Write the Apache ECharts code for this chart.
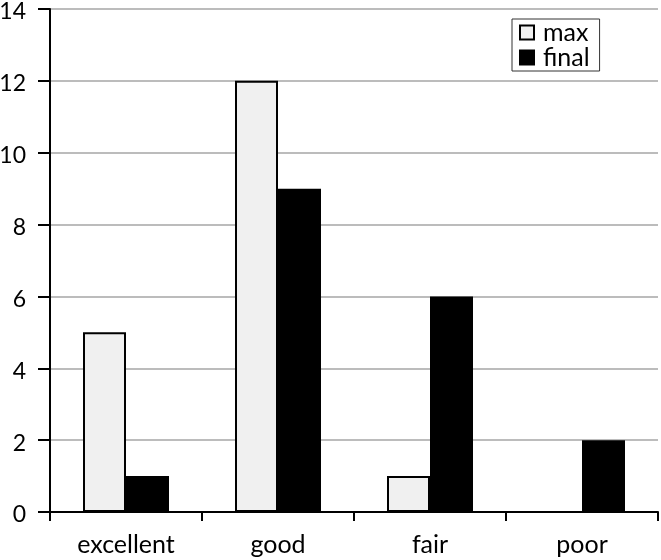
<!DOCTYPE html>
<html><head><meta charset="utf-8">
<script src="https://cdn.jsdelivr.net/npm/echarts@6/dist/echarts.min.js"></script>
<style>html,body{margin:0;padding:0;background:#fff}#c{width:661px;height:560px}</style>
</head><body><div id="c"></div>
<script>
const categories = ['excellent', 'good', 'fair', 'poor'];
const maxValues = [5, 12, 1, 0];
const finalValues = [1, 9, 6, 2];
const yTicks = [0, 2, 4, 6, 8, 10, 12, 14];

const chart = echarts.init(document.getElementById('c'), null, {renderer: 'canvas'});
const font = 'Lato, "Open Sans", sans-serif';
chart.setOption({
  animation: false,
  backgroundColor: '#fff',
  grid: {left: 50, right: 3, top: 9, bottom: 48, containLabel: false, outerBoundsMode: 'none'},
  legend: {
    orient: 'vertical', left: 512, top: 19,
    padding: [1, 10, 1, 7], itemGap: 0,
    borderColor: '#333', borderWidth: 1,
    itemWidth: 14, itemHeight: 14, icon: 'rect',
    textStyle: {fontFamily: font, fontSize: 25, color: '#000', padding: [0, 0, 0, 4]},
    data: ['max', 'final']
  },
  xAxis: {
    type: 'category', data: categories,
    axisLine: {lineStyle: {color: '#000', width: 2}},
    axisTick: {show: true, length: 9, lineStyle: {color: '#000', width: 2}},
    axisLabel: {fontFamily: font, fontSize: 25, color: '#000', margin: 20}
  },
  yAxis: {
    type: 'value', min: yTicks[0], max: yTicks[yTicks.length - 1], interval: 2,
    axisLine: {show: true, lineStyle: {color: '#000', width: 2}},
    axisTick: {show: true, length: 12, lineStyle: {color: '#000', width: 2}},
    axisLabel: {fontFamily: font, fontSize: 23, color: '#000', margin: 24,
                verticalAlign: 'top', lineHeight: 6},
    splitLine: {lineStyle: {color: '#a6a6a6', width: 1.5}}
  },
  series: [
    {name: 'max', type: 'bar', data: maxValues, barWidth: 43, barGap: '0%',
     itemStyle: {color: '#f0f0f0', borderColor: '#000', borderWidth: 2}},
    {name: 'final', type: 'bar', data: finalValues, barWidth: 43,
     itemStyle: {color: '#000', borderColor: '#000', borderWidth: 2}}
  ]
});
</script></body></html>
